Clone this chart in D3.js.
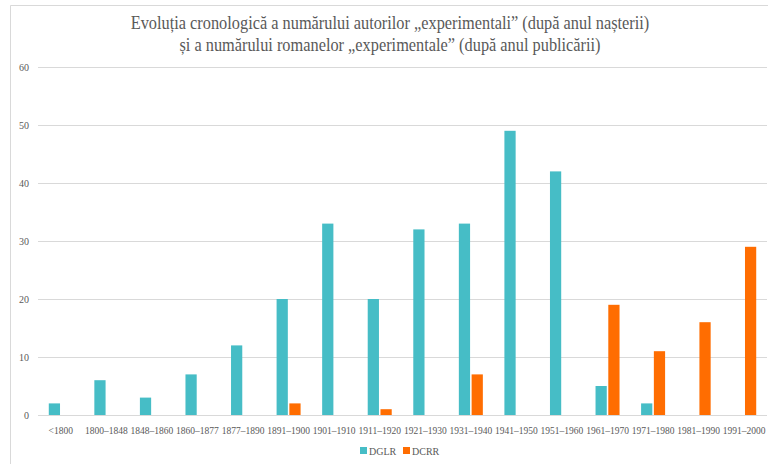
<!DOCTYPE html>
<html>
<head>
<meta charset="utf-8">
<script src="https://cdn.jsdelivr.net/npm/d3@7"></script>
<style>
  html, body { margin: 0; padding: 0; background: #fff; }
  svg { display: block; }
  svg text { font-family: "Liberation Serif", "DejaVu Serif", serif; fill: #595959; }
</style>
</head>
<body>
<svg id="chart" width="768" height="464"></svg>
<script>
// Perioade (categorii pe axa X)
const categories = ["<1800", "1800–1848", "1848–1860", "1860–1877", "1877–1890", "1891–1900",
  "1901–1910", "1911–1920", "1921–1930", "1931–1940", "1941–1950", "1951–1960",
  "1961–1970", "1971–1980", "1981–1990", "1991–2000"];
// Numărul autorilor „experimentali" (după anul nașterii)
const dglr = [2, 6, 3, 7, 12, 20, 33, 20, 32, 33, 49, 42, 5, 2, 0, 0];
// Numărul romanelor „experimentale" (după anul publicării)
const dcrr = [0, 0, 0, 0, 0, 2, 0, 1, 0, 7, 0, 0, 19, 11, 16, 29];
const seriesNames = ["DGLR", "DCRR"];
const seriesColors = ["#46bdc6", "#ff6d01"];
const yTicks = [0, 10, 20, 30, 40, 50, 60];
const titleLines = [
  "Evoluția cronologică a numărului autorilor „experimentali” (după anul nașterii)",
  "și a numărului romanelor „experimentale” (după anul publicării)"
];

const FONT = "'Liberation Serif', 'DejaVu Serif', serif";
const svg = d3.select("#chart");
const W = 768, H = 464;
const plot = { left: 38, right: 767, top: 67, bottom: 415 };

// chart frame
svg.append("path")
  .attr("d", `M10.5,${H} V5.5 H${W}`)
  .attr("fill", "none")
  .attr("stroke", "#d9d9d9")
  .attr("stroke-width", 1);

// title
const title = svg.append("g").attr("transform", "translate(390,0)");
titleLines.forEach((t, i) => {
  title.append("text")
    .attr("x", 0)
    .attr("y", 29 + i * 22)
    .attr("text-anchor", "middle")
    .attr("transform", "scale(0.86,1)")
    .attr("font-family", FONT)
    .attr("font-size", 19)
    .text(t);
});

const x = d3.scaleBand().domain(categories).range([plot.left, plot.right]);
const x1 = d3.scaleBand().domain(seriesNames).range([x.bandwidth() / 2 - 12, x.bandwidth() / 2 + 12]).paddingInner(0.12);
const y = d3.scaleLinear().domain([0, 60]).range([plot.bottom, plot.top]);

// gridlines + y labels
const yAxis = d3.axisLeft(y).tickValues(yTicks).tickSize(-(plot.right - plot.left)).tickPadding(9);
const gy = svg.append("g").attr("transform", `translate(${plot.left},0)`).call(yAxis)
  .attr("font-family", FONT);
gy.select(".domain").remove();
gy.selectAll(".tick line").attr("stroke", "#d9d9d9").attr("stroke-width", 1);
gy.selectAll(".tick text").attr("font-size", 10).attr("fill", "#595959");

// bars
const groups = svg.append("g").selectAll("g")
  .data(categories)
  .join("g")
  .attr("transform", d => `translate(${x(d)},0)`);

groups.selectAll("rect")
  .data((d, i) => [dglr[i], dcrr[i]].map((v, k) => ({ key: seriesNames[k], value: v, color: seriesColors[k] })))
  .join("rect")
  .filter(d => d.value > 0)
  .attr("x", d => x1(d.key))
  .attr("width", x1.bandwidth())
  .attr("y", d => y(d.value))
  .attr("height", d => y(0) - y(d.value))
  .attr("fill", d => d.color);

// baseline
svg.append("line")
  .attr("x1", plot.left).attr("x2", plot.right)
  .attr("y1", y(0) + 0.5).attr("y2", y(0) + 0.5)
  .attr("stroke", "#d9d9d9");

// x labels
const xAxis = d3.axisBottom(x).tickSize(0).tickPadding(12);
const gx = svg.append("g").attr("transform", `translate(0,${plot.bottom})`).call(xAxis)
  .attr("font-family", FONT);
gx.select(".domain").remove();
gx.selectAll(".tick text").attr("font-size", 9.5).attr("fill", "#595959");

// legend
const legend = svg.append("g").attr("transform", "translate(360,451)");
const legItems = legend.selectAll("g").data(seriesNames).join("g")
  .attr("transform", (d, i) => `translate(${i * 43},0)`);
legItems.append("rect")
  .attr("x", 0).attr("y", -4).attr("width", 7).attr("height", 7)
  .attr("fill", (d, i) => seriesColors[i]);
legItems.append("text")
  .attr("x", 9).attr("y", 3.5)
  .attr("font-family", FONT)
  .attr("font-size", 10)
  .text(d => d);
</script>
</body>
</html>
